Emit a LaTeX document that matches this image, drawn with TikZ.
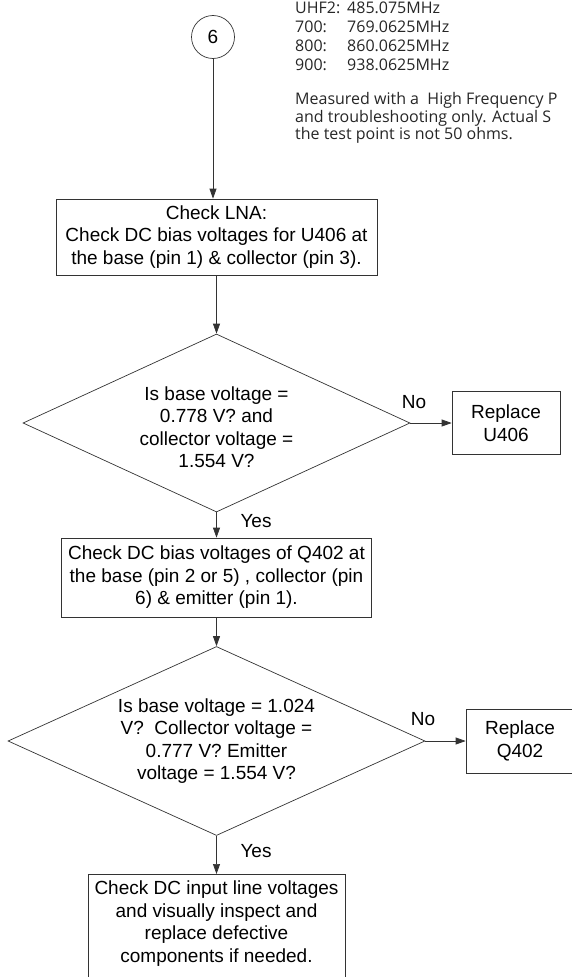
\documentclass[tikz,border=0pt]{standalone}
\usepackage{fontspec}
\usetikzlibrary{positioning, arrows.meta, shapes.geometric}
\newfontfamily\flowfont{Liberation Sans}
\newfontfamily\notefont{Open Sans}
\newcommand{\flowsize}{\flowfont\fontsize{19pt}{22.5pt}\selectfont}
\newcommand{\notesize}{\notefont\fontsize{16pt}{19pt}\selectfont}

\tikzset{
  procbox/.style={draw=black!80, line width=0.7pt, rectangle, font=\flowsize, align=center, inner sep=0pt},
  decision/.style={draw=black!80, line width=0.7pt, diamond, inner sep=0pt},
  flowarrow/.style={draw=black!80, line width=0.7pt, -{Triangle[length=10pt,width=7pt]}},
  flowlabel/.style={font=\flowsize, inner sep=0pt},
  notetext/.style={font=\notesize, text=black!85, anchor=base west, inner sep=0pt},
}

\begin{document}
\begin{tikzpicture}[x=1pt, y=-1pt]
\useasboundingbox (0,0) rectangle (571,977);
% ---- probe readings (top right)
\foreach \band/\freq [count=\i] in {UHF2:/485.075MHz, 700:/769.0625MHz, 800:/860.0625MHz, 900:/938.0625MHz} {
  \node[notetext] (band\i) at (295,{13.5+19*(\i-1)}) {\band};
  \node[notetext] (freq\i) at (347,{13.5+19*(\i-1)}) {\freq};
}
\foreach \txt [count=\i] in {{Measured with a~ High Frequency P}, {and troubleshooting only. Actual S}, {the test point is not 50 ohms.}} {
  \node[notetext] (note\i) at (295,{104.5+17.5*(\i-1)}) {\txt};
}
% ---- LNA check
\node[circle, draw=black!80, line width=0.7pt, minimum size=43pt, inner sep=0pt, font=\flowsize] (start) at (213,37) {6};
\node[procbox, minimum width=321pt, minimum height=76pt] (lna) at (216.5,237) {Check LNA:\\Check DC bias voltages for U406 at\\the base (pin 1) \& collector (pin 3).};
\node[decision, minimum width=387pt, minimum height=178pt] (biasok) at (216.5,423) {};
\node[flowlabel, align=center] (biasoktext) at (216.5,427) {Is base voltage =\\0.778 V? and\\collector voltage =\\1.554 V?};
\node[procbox, minimum width=108pt, minimum height=63pt] (repu) at (506,423) {Replace\\U406};
\node[flowlabel] (no1) at (414,402) {No};
\node[flowlabel] (yes1) at (256,521) {Yes};
% ---- Q402 check
\node[procbox, minimum width=310pt, minimum height=79pt] (qbias) at (216.5,577.5) {Check DC bias voltages of Q402 at\\the base (pin 2 or 5) , collector (pin\\6) \& emitter (pin 1).};
\node[decision, minimum width=417pt, minimum height=189pt] (qok) at (216.5,741) {};
\node[flowlabel, align=center] (qoktext) at (216.5,741) {Is base voltage = 1.024\\V?~ Collector voltage =\\0.777 V? Emitter\\voltage = 1.554 V?};
\node[procbox, minimum width=108pt, minimum height=64pt] (repq) at (520,741) {Replace\\Q402};
\node[flowlabel] (no2) at (423,719) {No};
\node[flowlabel] (yes2) at (256,851) {Yes};
\node[procbox, minimum width=257pt, minimum height=130pt, anchor=north] (inspect) at (216.5,874) {};
\node[flowlabel, align=center] (inspecttext) at (216.5,923.5) {Check DC input line voltages\\and visually inspect and\\replace defective\\components if needed.};
% ---- connectors
\draw[flowarrow] (start.south) -- (start.south |- lna.north);
\draw[flowarrow] (lna) -- (biasok);
\draw[flowarrow] (biasok.east) -- (repu.west);
\draw[flowarrow] (biasok) -- (qbias);
\draw[flowarrow] (qbias) -- (qok);
\draw[flowarrow] (qok.east) -- (repq.west);
\draw[flowarrow] (qok) -- (inspect);
\end{tikzpicture}
\end{document}
